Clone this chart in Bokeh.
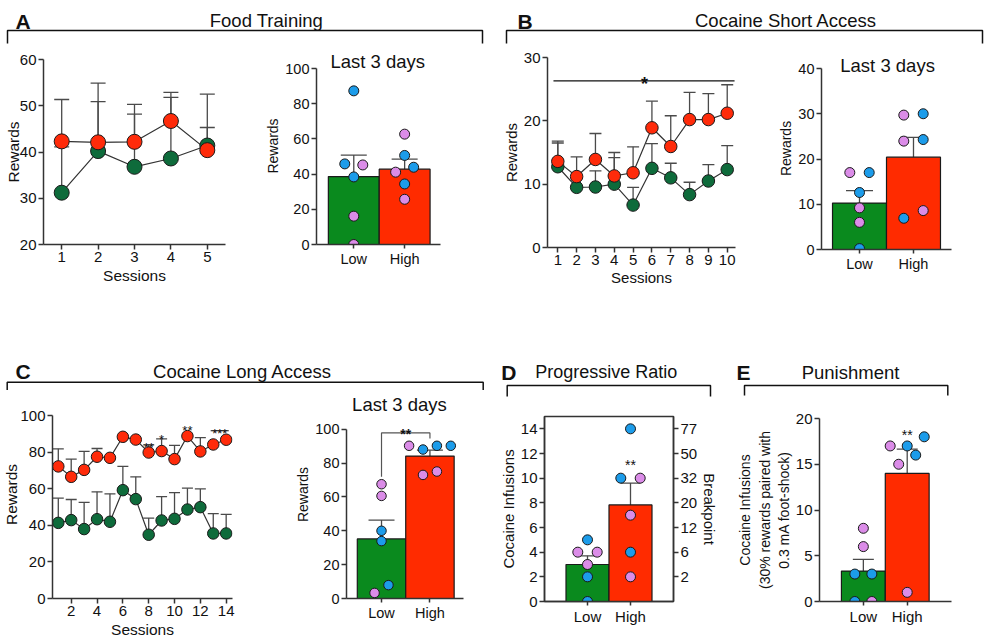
from bokeh.plotting import figure
from bokeh.layouts import row, column
from bokeh.models import Range1d, FixedTicker, LinearAxis, Whisker, TeeHead, ColumnDataSource
from bokeh.core.properties import value
from bokeh.embed import file_html
from bokeh.resources import INLINE

# ---------------- data ----------------
groups = ["Low", "High"]

# A  Food training
food_sessions = [1, 2, 3, 4, 5]
food_low = [31.2, 40.2, 36.8, 38.6, 41.4]
food_low_upper = [41.1, 50.9, 48.2, 51.8, 52.5]
food_high = [42.3, 42.1, 42.2, 46.7, 40.4]
food_high_upper = [51.35, 54.9, 50.3, 52.9, 45.3]
food_bar = [38.6, 42.8]
food_bar_upper = [50.8, 48.5]
food_low_pts = [87.3, 45.8, 45.2, 38.4, 16.1, 0.0]
food_low_sex = ["M", "M", "F", "M", "F", "F"]
food_high_pts = [62.7, 50.6, 41.1, 43.9, 34.4, 25.7]
food_high_sex = ["F", "M", "F", "M", "M", "F"]

# B  Cocaine short access
sa_sessions = [1, 2, 3, 4, 5, 6, 7, 8, 9, 10]
sa_low = [12.75, 9.5, 9.55, 10.0, 6.7, 12.5, 11.0, 8.35, 10.5, 12.3]
sa_low_upper = [16.5, 9.5, 12.1, 14.2, 9.5, 16.4, 13.3, 10.3, 13.1, 16.1]
sa_high = [13.6, 11.2, 13.9, 11.3, 11.8, 18.9, 15.95, 20.2, 20.2, 21.2]
sa_high_upper = [16.8, 14.3, 18.0, 15.0, 15.9, 23.1, 20.8, 24.5, 24.3, 25.7]
sa_bar = [10.25, 20.4]
sa_bar_upper = [13.0, 24.8]
sa_low_pts = [17.0, 17.0, 12.6, 9.2, 6.0, 0.2]
sa_low_sex = ["F", "M", "M", "F", "F", "M"]
sa_high_pts = [29.7, 30.0, 23.95, 24.3, 6.9, 8.6]
sa_high_sex = ["F", "M", "F", "M", "M", "F"]

# C  Cocaine long access
la_sessions = [1, 2, 3, 4, 5, 6, 7, 8, 9, 10, 11, 12, 13, 14]
la_low = [41.4, 42.9, 38.0, 43.4, 42.0, 59.3, 54.4, 34.9, 42.7, 43.6, 48.7, 50.0, 35.6, 35.6]
la_low_upper = [54.9, 54.2, 52.6, 58.4, 57.3, 72.3, 66.6, 44.0, 55.8, 58.0, 60.4, 60.0, 46.5, 46.0]
la_high = [72.3, 66.6, 70.4, 77.6, 77.0, 88.5, 87.0, 79.9, 80.7, 76.3, 88.9, 80.5, 84.3, 86.9]
la_high_upper = [81.9, 76.3, 80.5, 82.1, 77.0, 88.5, 87.0, 84.1, 87.4, 83.8, 88.9, 88.0, 84.3, 86.9]
la_sig_sessions = [8, 9, 11, 13.5]
la_sig_labels = ["**", "*", "**", "***"]
la_bar = [35.2, 84.1]
la_bar_upper = [46.3, 87.6]
la_low_pts = [67.5, 60.6, 40.0, 33.9, 3.3, 7.9]
la_low_sex = ["F", "F", "M", "M", "F", "M"]
la_high_pts = [90.2, 88.0, 90.2, 90.2, 73.0, 75.0]
la_high_sex = ["F", "M", "M", "M", "F", "F"]

# D  Progressive ratio
pr_bar = [3.0, 7.83]
pr_bar_upper = [3.7, 9.6]
pr_low_pts = [5, 4, 4, 3, 2, 0]
pr_low_sex = ["M", "F", "F", "F", "M", "M"]
pr_high_pts = [14, 10, 10, 7, 4, 2]
pr_high_sex = ["M", "M", "F", "F", "M", "F"]
pr_infusion_ticks = [2, 4, 6, 8, 10, 12, 14]
pr_breakpoints = ["2", "6", "12", "20", "32", "50", "77"]

# E  Punishment
pun_bar = [3.33, 14.0]
pun_bar_upper = [4.6, 16.65]
pun_low_pts = [8, 6, 3, 3, 0, 0]
pun_low_sex = ["F", "F", "M", "M", "M", "F"]
pun_high_pts = [17, 17, 18, 15, 16, 1]
pun_high_sex = ["F", "M", "M", "F", "M", "F"]

# ---------------- style ----------------
FONT = "Liberation Sans"
TXT = "#111111"
AXIS = "#333333"
ERR = "#4a4a4a"
EDGE = "#1a1a1a"
LINE = "#333333"
GREEN_BAR = "#0A8A1E"
RED_BAR = "#FF2B00"
GREEN_DOT = "#0E6B3B"
RED_DOT = "#FF2B0A"
SEX_COLOR = {"M": "#1C9CEA", "F": "#DB8CE8"}


def base_fig(width, height, xr, yr, borders):
    l, r, t, b = borders
    p = figure(width=width, height=height, x_range=Range1d(*xr), y_range=Range1d(*yr),
               output_backend="svg", toolbar_location=None, tools="",
               min_border_left=l, min_border_right=r, min_border_top=t, min_border_bottom=b,
               frame_align=False)
    p.grid.visible = False
    p.outline_line_color = None
    p.background_fill_color = "white"
    p.border_fill_color = "white"
    return p


def style_axes(p, tick_px, label_px, label_standoff=1):
    for ax in p.axis:
        ax.axis_line_color = AXIS
        ax.axis_line_width = 1.5
        ax.major_tick_line_color = AXIS
        ax.major_tick_line_width = 1.5
        ax.major_tick_out = 5
        ax.major_tick_in = 0
        ax.minor_tick_line_color = None
        ax.major_label_text_font = FONT
        ax.major_label_text_font_size = tick_px
        ax.major_label_text_color = TXT
        ax.major_label_standoff = 2
        ax.axis_label_text_font = FONT
        ax.axis_label_text_font_size = label_px
        ax.axis_label_text_font_style = "normal"
        ax.axis_label_text_color = TXT
        ax.axis_label_standoff = label_standoff


def whiskers(p, x, lower, upper, cap):
    keep = [i for i in range(len(x)) if upper[i] > lower[i]]
    src = ColumnDataSource(dict(x=[x[i] for i in keep], lower=[lower[i] for i in keep],
                                upper=[upper[i] for i in keep]))
    p.add_layout(Whisker(source=src, base="x", lower="lower", upper="upper", dimension="height",
                         line_color=ERR, line_width=1.3, lower_head=None,
                         upper_head=TeeHead(size=cap, line_color=ERR, line_width=1.3)))


def line_panel(p, x, low, low_up, high, high_up, size, cap):
    whiskers(p, x, low, low_up, cap)
    whiskers(p, x, high, high_up, cap)
    p.line(x, low, line_color=LINE, line_width=1.2)
    p.line(x, high, line_color=LINE, line_width=1.2)
    p.scatter(x, low, size=size, fill_color=GREEN_DOT, line_color=EDGE, line_width=1)
    p.scatter(x, high, size=size, fill_color=RED_DOT, line_color=EDGE, line_width=1)


def swarm(vals, ppu_y, diam, spacing, ppu_x):
    order = sorted(range(len(vals)), key=lambda i: -vals[i])
    rows = []
    for i in order:
        if rows and (vals[rows[-1][0]] - vals[i]) * ppu_y < 0.95 * diam:
            rows[-1].append(i)
        else:
            rows.append([i])
    offs = [0.0] * len(vals)
    for r in rows:
        r.sort()
        n = len(r)
        for k, i in enumerate(r):
            offs[i] = (k - (n - 1) / 2) * spacing / ppu_x
    return offs


def bar_panel(p, bar, bar_up, low_pts, low_sex, high_pts, high_sex,
              ppu_x, ppu_y, spacing, cap, diam=10):
    p.vbar(x=[0, 1], top=bar, bottom=0, width=1.0, fill_color=[GREEN_BAR, RED_BAR],
           line_color=EDGE, line_width=1.2)
    whiskers(p, [0, 1], bar, bar_up, cap)
    for gi, (pts, sex) in enumerate(((low_pts, low_sex), (high_pts, high_sex))):
        offs = swarm(pts, ppu_y, diam, spacing, ppu_x)
        xs = [gi + o for o in offs]
        cols = [SEX_COLOR[s] for s in sex]
        p.scatter(xs, pts, size=diam, fill_color=cols, line_color=EDGE, line_width=1)
    p.xaxis.ticker = FixedTicker(ticks=[0, 1])
    p.xaxis.major_label_overrides = {0: groups[0], 1: groups[1]}


def add_text(p, x, y, text, size, align="center", bold=False, color=TXT):
    p.text(x=[x], y=[y], text=[text], text_align=align, text_baseline="alphabetic",
           text_font=value(FONT), text_font_size=size, text_color=color,
           text_font_style="bold" if bold else "normal")


def header(width, height, items, brackets):
    p = figure(width=width, height=height, x_range=Range1d(0, width), y_range=Range1d(height, 0),
               x_axis_type=None, y_axis_type=None, output_backend="svg",
               toolbar_location=None, tools="", min_border=0, frame_align=False)
    p.outline_line_color = None
    p.grid.visible = False
    for (x, y, txt, size, align, bold) in items:
        add_text(p, x, y, txt, size, align, bold)
    for (x0, x1, y, y1) in brackets:
        p.line([x0, x0, x1, x1], [y1, y, y, y1], line_color=TXT, line_width=1.5)
    return p


# ---------------- top row (page origin at 0,0) ----------------
H1 = header(984, 45,
            [(15, 20.5, "A", "21px", "left", True),
             (266, 20, "Food Training", "18.5px", "center", False),
             (517, 20.5, "B", "21px", "left", True),
             (785.5, 20, "Cocaine Short Access", "18.5px", "center", False)],
            [(7, 482, 30, 43), (506, 982, 30, 43)])

# A1 line chart
A1 = base_fig(262, 255, (0.5, 5.5), (20, 60), (43, 37, 14, 56))
line_panel(A1, food_sessions, food_low, food_low_upper, food_high, food_high_upper, 15, 15)
A1.xaxis.ticker = FixedTicker(ticks=food_sessions)
A1.yaxis.ticker = FixedTicker(ticks=[20, 30, 40, 50, 60])
A1.xaxis.axis_label = "Sessions"
A1.yaxis.axis_label = "Rewards"
style_axes(A1, "15px", "15.5px", 2)
A1.yaxis.axis_label_standoff = -5

# A2 bar chart (frame extended above 100 for the subtitle)
A2 = base_fig(234, 255, (-0.733, 1.705), (0, 197 / 1.76), (50, 56, 2, 56))
bar_panel(A2, food_bar, food_bar_upper, food_low_pts, food_low_sex, food_high_pts, food_high_sex,
          52.5, 1.76, 18.6, 26)
A2.yaxis.ticker = FixedTicker(ticks=[0, 20, 40, 60, 80, 100])
A2.yaxis.bounds = (0, 100)
A2.yaxis.axis_label = "Rewards"
add_text(A2, 0.47, 104.1, "Last 3 days", "18.5px")
style_axes(A2, "14.5px", "14px")
A2.xaxis.major_tick_out = 4

# B1 line chart
B1 = base_fig(279, 255, (0.453, 10.44), (0, 30), (51, 40, 12, 53))
line_panel(B1, sa_sessions, sa_low, sa_low_upper, sa_high, sa_high_upper, 12.5, 12)
B1.line([sa_sessions[0] - 0.23, sa_sessions[-1] + 0.39], [26.3, 26.3], line_color=TXT, line_width=1.3)
add_text(B1, 5.6, 25.8, "*", "18px", bold=True)
B1.xaxis.ticker = FixedTicker(ticks=sa_sessions)
B1.yaxis.ticker = FixedTicker(ticks=[0, 10, 20, 30])
B1.xaxis.axis_label = "Sessions"
B1.yaxis.axis_label = "Rewards"
style_axes(B1, "15px", "15px")

# B2 bar chart
B2 = base_fig(202, 255, (-0.704, 1.704), (0, 202 / 4.525), (46, 26, 2, 51))
bar_panel(B2, sa_bar, sa_bar_upper, sa_low_pts, sa_low_sex, sa_high_pts, sa_high_sex,
          54.0, 4.525, 19.4, 27)
B2.yaxis.ticker = FixedTicker(ticks=[0, 10, 20, 30, 40])
B2.yaxis.bounds = (0, 40)
B2.yaxis.axis_label = "Rewards"
add_text(B2, 0.52, 40.7, "Last 3 days", "18.5px")
style_axes(B2, "14.5px", "14px")
B2.xaxis.major_tick_out = 4

top = column(H1, row(A1, A2, B1, B2))

# ---------------- bottom row ----------------
HC = header(496, 90,
            [(15, 70.5, "C", "21px", "left", True),
             (242, 70.5, "Cocaine Long Access", "18.5px", "center", False)],
            [(6.7, 482.7, 81.7, 90)])
HD = header(232, 97,
            [(4.7, 71.7, "D", "21px", "left", True),
             (109.8, 71.7, "Progressive Ratio", "18px", "center", False)],
            [(10.7, 214, 85, 96)])
HE = header(249, 97,
            [(8, 71.7, "E", "21px", "left", True),
             (122, 71.7, "Punishment", "18.5px", "center", False)],
            [(16, 219.3, 85, 95)])

# C1 line chart
C1 = base_fig(292, 252, (0.551, 14.49), (0, 208 / 1.827), (52, 60, 0, 44))
line_panel(C1, la_sessions, la_low, la_low_upper, la_high, la_high_upper, 11.5, 11)
for s, lab, yv in zip(la_sig_sessions, la_sig_labels, [82.6, 87.1, 91.7, 90.4]):
    add_text(C1, s, yv, lab, "13px")
C1.line([12.8, 14.2], [91.8, 91.8], line_color=TXT, line_width=1.1)
C1.xaxis.ticker = FixedTicker(ticks=[2, 4, 6, 8, 10, 12, 14])
C1.yaxis.ticker = FixedTicker(ticks=[0, 20, 40, 60, 80, 100])
C1.yaxis.bounds = (0, 100)
C1.xaxis.axis_label = "Sessions"
C1.yaxis.axis_label = "Rewards"
style_axes(C1, "15px", "15.5px", 2)
C1.yaxis.axis_label_standoff = -3

# C2 bar chart
C2 = base_fig(204, 252, (-0.723, 1.693), (0, 208 / 1.693), (49, 33, 0, 44))
bar_panel(C2, la_bar, la_bar_upper, la_low_pts, la_low_sex, la_high_pts, la_high_sex,
          50.5, 1.693, 14.5, 26, 9.5)
C2.line([0, 0, 1, 1], [71.9, 97.8, 97.8, 94.5], line_color="#555555", line_width=1.2)
add_text(C2, 0.5, 97.0, "**", "14px", bold=True)
C2.yaxis.ticker = FixedTicker(ticks=[0, 20, 40, 60, 80, 100])
C2.yaxis.bounds = (0, 100)
C2.yaxis.axis_label = "Rewards"
add_text(C2, 0.37, 114.8, "Last 3 days", "18.5px")
style_axes(C2, "14.5px", "14px")
C2.xaxis.major_tick_out = 4

# D progressive ratio
D = base_fig(232, 245, (-1, 2), (0, 15), (44, 55, 19, 41))
bar_panel(D, pr_bar, pr_bar_upper, pr_low_pts, pr_low_sex, pr_high_pts, pr_high_sex,
          44.35, 12.36, 20, 20)
add_text(D, 1, 11.1, "**", "14px")
D.yaxis.ticker = FixedTicker(ticks=[0, 2, 4, 6, 8, 10, 12, 14])
D.yaxis.axis_label = "Cocaine Infusions"
rax = LinearAxis(ticker=FixedTicker(ticks=pr_infusion_ticks),
                 major_label_overrides={t: b for t, b in zip(pr_infusion_ticks, pr_breakpoints)},
                 axis_label="Breakpoint")
D.add_layout(rax, "right")
D.outline_line_color = AXIS
D.outline_line_width = 1.5
style_axes(D, "15px", "15px")
D.xaxis.major_tick_out = 4

# E punishment
E = base_fig(249, 245, (-1, 2.01), (0, 20), (91, 26, 21, 41))
bar_panel(E, pun_bar, pun_bar_upper, pun_low_pts, pun_low_sex, pun_high_pts, pun_high_sex,
          43.8, 9.15, 17, 21)
add_text(E, 1, 18.16, "**", "14px")
E.yaxis.ticker = FixedTicker(ticks=[0, 5, 10, 15, 20])
E.yaxis.axis_label = "Cocaine Infusions\n(30% rewards paired with\n0.3 mA foot-shock)"
style_axes(E, "15px", "14px")
E.xaxis.major_tick_out = 4

bottom = row(column(HC, row(C1, C2)), column(HD, D), column(HE, E))

layout = column(top, bottom)
open("out.html", "w").write(file_html(layout, INLINE))
